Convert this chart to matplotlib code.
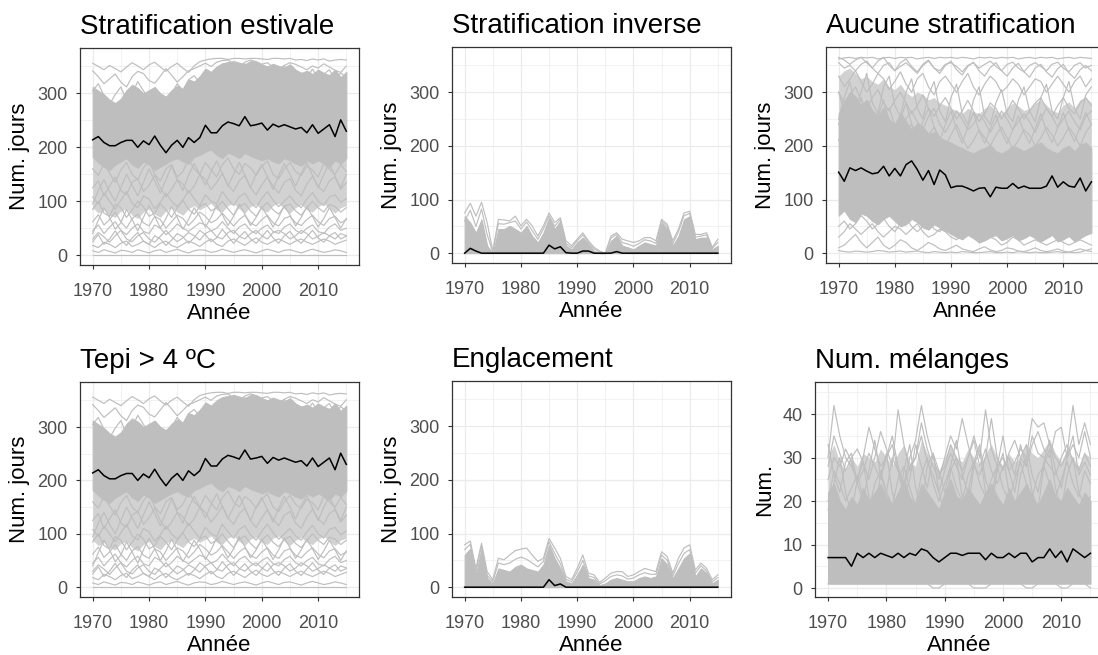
import numpy as np
import matplotlib.pyplot as plt

plt.rcParams['font.family'] = ['Liberation Sans', 'DejaVu Sans']

# simulated years
years = np.arange(1970, 2016)

GREY = '#bebebe'
MESH = '#d2d2d2'

# ---- Stratification estivale (same series give Tepi > 4 ºC) ----
est_median = [214, 220, 209, 203, 203, 209, 213, 213, 200, 212,
              205, 221, 204, 190, 204, 213, 200, 218, 209, 218,
              241, 227, 227, 240, 247, 244, 240, 257, 240, 242,
              245, 232, 243, 238, 242, 238, 234, 237, 227, 242,
              226, 234, 242, 220, 251, 230]
# range where the lake curves pile up
est_band_low = [182, 172, 164, 158, 168, 174, 180, 168, 162, 174,
                168, 158, 164, 170, 176, 180, 174, 170, 182, 186,
                192, 196, 186, 180, 190, 186, 180, 190, 184, 180,
                176, 180, 174, 170, 180, 176, 170, 166, 176, 170,
                176, 170, 164, 176, 170, 180]
est_band_high = [312, 305, 298, 288, 282, 290, 306, 316, 310, 300,
                 306, 312, 300, 294, 306, 314, 308, 326, 322, 332,
                 346, 340, 350, 356, 358, 360, 357, 354, 360, 359,
                 354, 350, 355, 351, 348, 354, 344, 338, 342, 336,
                 344, 338, 334, 344, 330, 340]
# lower edge of the looser tangle under the pile
est_mesh_low = [88, 78, 84, 74, 70, 82, 86, 74, 68, 80,
                86, 76, 70, 82, 88, 80, 74, 86, 92, 84,
                90, 96, 84, 80, 92, 96, 86, 78, 90, 94,
                84, 80, 92, 96, 86, 78, 88, 94, 84, 80,
                90, 96, 86, 78, 88, 92]
est_lakes = [
    [356, 350, 344, 352, 346, 340, 349, 357, 351, 344, 353, 358, 349, 341, 350, 356, 347, 339, 351, 359,
     362, 364, 365, 365, 363, 365, 365, 364, 365, 365, 364, 363, 365, 365, 364, 365, 362, 363, 361, 364,
     362, 364, 360, 362, 363, 362],
    [342, 331, 318, 327, 336, 321, 312, 331, 341, 337, 324, 319, 332, 346, 334, 321, 331, 342, 346, 351,
     356, 350, 358, 361, 362, 354, 349, 358, 362, 359, 354, 357, 349, 344, 352, 357, 354, 349, 344, 351,
     347, 355, 349, 343, 339, 351],
    [305, 318, 296, 280, 298, 312, 287, 300, 322, 305, 290, 310, 298, 284, 300, 318, 306, 325, 333, 320,
     338, 325, 342, 330, 350, 338, 346, 355, 340, 348, 332, 345, 330, 340, 352, 335, 322, 338, 330, 345,
     328, 336, 344, 325, 338, 330],
    [160, 148, 170, 152, 135, 158, 172, 150, 140, 162, 175, 150, 138, 160, 168, 145, 155, 178, 160, 150,
     172, 158, 145, 168, 180, 160, 150, 170, 162, 148, 165, 175, 150, 142, 160, 172, 155, 148, 165, 158,
     145, 170, 160, 150, 168, 155],
    [125, 138, 110, 128, 145, 120, 112, 135, 142, 118, 130, 148, 125, 108, 122, 140, 132, 115, 128, 150,
     140, 122, 135, 152, 130, 118, 138, 148, 125, 112, 130, 145, 128, 115, 135, 142, 120, 110, 132, 146,
     128, 118, 138, 145, 122, 135],
    [108, 95, 115, 100, 85, 102, 118, 96, 88, 110, 104, 86, 98, 115, 100, 90, 102, 120, 105, 92,
     112, 100, 95, 118, 104, 92, 108, 115, 98, 88, 105, 118, 102, 90, 100, 110, 96, 88, 104, 116,
     100, 92, 108, 112, 98, 105],
    [85, 100, 78, 72, 95, 88, 70, 84, 100, 90, 72, 78, 95, 84, 70, 88, 102, 85, 76, 90,
     96, 82, 88, 100, 86, 74, 90, 96, 82, 72, 88, 98, 84, 76, 90, 95, 82, 74, 88, 100,
     88, 80, 94, 90, 80, 88],
    [62, 75, 56, 66, 80, 62, 50, 68, 76, 60, 54, 72, 66, 50, 62, 74, 68, 55, 66, 80,
     72, 60, 66, 78, 66, 54, 66, 74, 60, 54, 66, 74, 60, 54, 68, 72, 60, 55, 66, 74,
     62, 55, 68, 72, 60, 66],
    [45, 56, 40, 52, 62, 46, 38, 50, 58, 44, 40, 56, 50, 38, 46, 58, 50, 44, 52, 60,
     56, 45, 50, 62, 50, 40, 52, 58, 46, 40, 50, 56, 44, 40, 52, 58, 46, 40, 50, 56,
     44, 40, 52, 58, 46, 50],
    [30, 42, 34, 24, 36, 46, 30, 25, 36, 42, 30, 24, 35, 46, 34, 25, 32, 42, 36, 28,
     40, 46, 34, 30, 42, 46, 35, 30, 40, 46, 36, 30, 42, 46, 40, 30, 36, 46, 40, 30,
     35, 42, 36, 30, 40, 36],
    [18, 14, 24, 20, 14, 22, 26, 16, 20, 26, 20, 14, 22, 26, 18, 14, 20, 26, 22, 16,
     24, 30, 20, 16, 26, 30, 24, 18, 26, 32, 24, 20, 26, 30, 25, 20, 26, 30, 24, 20,
     25, 30, 26, 20, 24, 28],
    [8, 5, 10, 7, 4, 9, 8, 5, 10, 7, 4, 8, 10, 5, 8, 11, 7, 4, 8, 10,
     9, 5, 7, 11, 8, 5, 8, 10, 7, 4, 8, 11, 8, 5, 9, 10, 7, 4, 8, 11,
     8, 5, 7, 10, 8, 5],
    [0, 0, 0, 0, 0, 0, 0, 0, 0, 0, 0, 0, 0, 0, 0, 0, 0, 0, 0, 0,
     0, 0, 0, 0, 0, 0, 0, 0, 0, 0, 0, 0, 0, 0, 0, 0, 0, 0, 0, 0,
     0, 0, 0, 0, 0, 0],
    [95, 120, 140, 118, 100, 125, 150, 130, 110, 135, 160, 138, 115, 140, 165, 140, 120, 148, 170, 150,
     130, 155, 175, 152, 128, 150, 172, 148, 125, 150, 168, 145, 122, 148, 170, 150, 128, 152, 172, 148,
     125, 150, 170, 146, 125, 150],
    [40, 65, 88, 70, 48, 60, 85, 66, 45, 70, 92, 72, 50, 68, 90, 70, 48, 66, 88, 72,
     52, 70, 92, 75, 55, 72, 95, 76, 55, 70, 90, 72, 52, 70, 92, 74, 54, 70, 90, 72,
     52, 68, 88, 70, 50, 68],
    [25, 38, 20, 30, 45, 28, 18, 32, 42, 26, 20, 36, 30, 18, 28, 40, 34, 22, 32, 46,
     38, 25, 32, 48, 35, 22, 34, 44, 30, 22, 34, 46, 32, 22, 36, 44, 30, 22, 34, 46,
     32, 24, 36, 42, 30, 35],
]

# ---- Stratification inverse ----
inv_median = [0, 9, 4, 0, 0, 0, 0, 0, 0, 0,
              0, 0, 0, 0, 0, 15, 8, 12, 1, 0,
              0, 4, 4, 0, 0, 0, 0, 3, 0, 0,
              0, 0, 0, 0, 0, 0, 0, 0, 0, 0,
              0, 0, 0, 0, 0, 0]
inv_band = [69, 57, 38, 63, 14, 0, 45, 45, 51, 45,
            38, 51, 32, 20, 38, 66, 45, 60, 14, 7,
            20, 29, 17, 4, 0, 0, 23, 32, 14, 11,
            7, 14, 20, 17, 14, 57, 45, 14, 32, 63,
            69, 26, 29, 29, 7, 14]
inv_lakes = [
    [75, 93, 69, 95, 57, 4, 63, 62, 60, 69, 51, 63, 51, 32, 51, 75, 57, 66, 23, 14,
     26, 38, 23, 11, 4, 0, 32, 38, 26, 23, 20, 23, 29, 29, 23, 63, 54, 23, 45, 75,
     78, 35, 35, 38, 11, 26],
    [60, 80, 50, 82, 35, 2, 55, 54, 57, 60, 45, 58, 42, 26, 45, 70, 50, 63, 18, 10,
     23, 34, 20, 8, 2, 0, 28, 35, 20, 17, 13, 18, 25, 23, 18, 60, 50, 18, 40, 70,
     74, 30, 32, 34, 9, 20],
]

# ---- Aucune stratification ----
none_median = [151, 134, 159, 154, 159, 153, 148, 150, 162, 144,
               158, 144, 165, 172, 156, 136, 154, 128, 155, 146,
               122, 125, 125, 121, 116, 121, 122, 105, 123, 121,
               121, 130, 121, 125, 121, 121, 121, 125, 144, 123,
               133, 125, 123, 140, 116, 133]
none_band_low = [70, 80, 64, 58, 74, 70, 60, 54, 64, 70,
                 60, 50, 54, 64, 58, 48, 44, 54, 48, 42,
                 36, 30, 26, 34, 28, 20, 24, 30, 34, 24,
                 28, 34, 24, 28, 34, 28, 22, 28, 34, 22,
                 26, 32, 22, 28, 34, 38]
none_band_high = [260, 282, 300, 292, 276, 286, 266, 256, 272, 250,
                  240, 262, 246, 230, 242, 236, 222, 226, 216, 210,
                  206, 200, 196, 190, 186, 192, 196, 202, 190, 186,
                  192, 200, 196, 190, 196, 202, 206, 196, 190, 186,
                  196, 200, 190, 202, 206, 196]
# upper edge of the looser tangle above the pile
none_mesh_high = [330, 340, 345, 335, 325, 330, 320, 315, 325, 310,
                  305, 315, 300, 292, 300, 296, 286, 290, 280, 276,
                  270, 266, 260, 270, 264, 260, 270, 276, 266, 260,
                  270, 280, 274, 266, 270, 280, 286, 276, 266, 262,
                  276, 282, 270, 286, 290, 280]
none_lakes = [
    [362, 364, 365, 363, 365, 364, 365, 362, 364, 365, 363, 365, 364, 365, 362, 364, 365, 363, 365, 364,
     365, 363, 365, 364, 362, 365, 364, 365, 363, 365, 364, 365, 362, 364, 365, 363, 365, 364, 365, 362,
     364, 365, 363, 365, 364, 363],
    [355, 345, 350, 340, 352, 358, 345, 335, 350, 355, 340, 348, 355, 345, 335, 350, 358, 345, 340, 352,
     355, 348, 338, 350, 355, 345, 352, 358, 348, 340, 352, 356, 345, 338, 350, 355, 348, 340, 352, 356,
     345, 338, 350, 355, 345, 350],
    [330, 310, 325, 340, 320, 300, 315, 335, 325, 305, 320, 338, 315, 300, 325, 335, 310, 295, 320, 330,
     315, 300, 320, 335, 310, 295, 315, 330, 320, 300, 310, 325, 315, 295, 310, 325, 320, 300, 315, 330,
     315, 300, 320, 330, 310, 325],
    [300, 280, 295, 310, 285, 270, 290, 305, 280, 265, 285, 300, 280, 260, 275, 295, 270, 255, 275, 290,
     270, 250, 265, 285, 265, 245, 260, 280, 270, 250, 265, 285, 270, 250, 265, 280, 290, 270, 255, 275,
     290, 270, 260, 280, 290, 275],
    [240, 265, 250, 230, 260, 275, 245, 235, 260, 270, 240, 225, 250, 265, 245, 230, 255, 270, 240, 225,
     245, 265, 250, 230, 240, 260, 245, 225, 245, 265, 250, 230, 245, 260, 245, 225, 250, 270, 255, 235,
     250, 265, 245, 230, 255, 265],
    [210, 235, 220, 205, 230, 245, 215, 200, 225, 240, 215, 200, 225, 240, 215, 195, 220, 235, 215, 200,
     220, 240, 215, 195, 210, 230, 215, 200, 220, 235, 215, 195, 210, 230, 220, 200, 215, 235, 220, 200,
     215, 235, 220, 200, 225, 240],
    [250, 290, 320, 270, 300, 335, 280, 260, 310, 330, 275, 255, 300, 325, 270, 250, 295, 320, 265, 245,
     290, 315, 260, 240, 285, 310, 255, 240, 280, 305, 260, 245, 285, 310, 265, 245, 290, 315, 265, 250,
     290, 320, 270, 250, 295, 310],
    [300, 265, 230, 260, 290, 250, 220, 255, 285, 245, 215, 250, 280, 240, 215, 245, 270, 235, 210, 240,
     265, 230, 205, 235, 262, 228, 205, 232, 258, 226, 204, 230, 256, 225, 205, 232, 260, 228, 206, 234,
     262, 230, 208, 236, 262, 240],
    [365, 360, 352, 360, 365, 355, 345, 358, 365, 350, 340, 355, 362, 348, 338, 352, 360, 345, 335, 350,
     358, 342, 332, 348, 356, 340, 330, 346, 355, 340, 330, 345, 354, 338, 328, 345, 352, 338, 328, 344,
     352, 336, 326, 342, 350, 340],
    [10, 15, 25, 35, 20, 10, 20, 30, 15, 8, 15, 25, 20, 10, 5, 12, 20, 15, 8, 5,
     10, 15, 8, 5, 3, 8, 12, 6, 3, 5, 10, 8, 4, 3, 6, 10, 5, 3, 5, 8,
     4, 2, 5, 8, 5, 3],
    [30, 40, 55, 45, 35, 45, 55, 40, 30, 40, 50, 45, 35, 45, 55, 40, 30, 35, 45, 40,
     30, 25, 35, 40, 30, 20, 25, 30, 25, 15, 20, 30, 25, 15, 20, 25, 20, 15, 20, 25,
     20, 15, 20, 25, 20, 15],
    [5, 3, 2, 4, 3, 2, 3, 5, 4, 2, 3, 4, 2, 3, 4, 2, 1, 3, 2, 1,
     2, 1, 3, 2, 1, 1, 2, 3, 1, 1, 2, 1, 3, 2, 1, 2, 1, 1, 2, 3,
     1, 2, 1, 2, 5, 8],
    [50, 60, 45, 55, 70, 60, 45, 55, 65, 50, 40, 55, 65, 50, 40, 50, 60, 45, 40, 55,
     50, 40, 45, 55, 45, 35, 45, 50, 40, 35, 45, 50, 40, 35, 45, 50, 45, 35, 40, 50,
     45, 35, 45, 55, 45, 40],
]

# ---- Englacement ----
ice_median = [0, 0, 0, 0, 0, 0, 0, 0, 0, 0,
              0, 0, 0, 0, 0, 14, 3, 6, 0, 0,
              0, 0, 0, 0, 0, 0, 0, 0, 0, 0,
              0, 0, 0, 0, 0, 0, 0, 0, 0, 0,
              0, 0, 0, 0, 0, 0]
ice_band = [60, 72, 23, 72, 17, 7, 35, 32, 29, 38,
            42, 35, 32, 29, 42, 79, 54, 35, 11, 7,
            23, 42, 17, 14, 4, 7, 14, 17, 14, 11,
            11, 17, 20, 17, 20, 54, 42, 17, 35, 54,
            63, 20, 35, 26, 7, 14]
ice_lakes = [
    [79, 86, 35, 82, 29, 14, 54, 51, 60, 68, 71, 73, 60, 48, 54, 91, 73, 54, 20, 14,
     35, 60, 26, 23, 9, 17, 26, 29, 29, 20, 23, 29, 35, 32, 29, 66, 57, 26, 54, 73,
     79, 32, 45, 35, 14, 23],
    [70, 80, 28, 77, 22, 10, 45, 42, 45, 52, 56, 52, 45, 38, 48, 85, 63, 44, 15, 10,
     28, 50, 21, 18, 6, 12, 20, 23, 21, 15, 17, 23, 27, 24, 24, 60, 50, 21, 44, 63,
     70, 26, 40, 30, 10, 18],
]

# ---- Num. mélanges ----
mix_median = [7, 7, 7, 7, 5, 8, 7, 8, 7, 8,
              7.5, 7, 8, 7, 8, 7.5, 9, 8.5, 7, 6,
              7, 8, 8, 7.5, 8, 8, 8, 6.5, 8, 7,
              7, 8, 7, 8, 8, 6, 7, 7, 9, 7,
              8.5, 6, 9, 8, 7, 8]
mix_band_low = [1, 1, 1, 1, 1, 1, 1, 1, 1, 1,
                1, 1, 1, 1, 1, 1, 1, 1, 1, 1,
                1, 1, 1, 1, 1, 1, 1, 1, 1, 1,
                1, 1, 1, 1, 1, 1, 1, 1, 1, 1,
                1, 1, 1, 1, 1, 1]
mix_band_high = [22, 24, 20, 18, 21, 19, 23, 20, 22, 24,
                 21, 19, 22, 25, 21, 19, 24, 22, 20, 18,
                 22, 25, 21, 20, 23, 21, 19, 22, 24, 21,
                 19, 23, 20, 22, 24, 21, 19, 22, 25, 21,
                 20, 23, 21, 19, 22, 20]
mix_mesh_high = [30, 33, 29, 27, 30, 28, 31, 30, 29, 32,
                 30, 28, 31, 33, 29, 28, 34, 31, 29, 27,
                 30, 33, 30, 29, 32, 30, 28, 31, 33, 30,
                 28, 31, 29, 30, 33, 31, 30, 32, 34, 31,
                 29, 32, 30, 28, 31, 30]
mix_lakes = [
    [30, 42, 35, 30, 28, 25, 30, 37, 32, 28, 30, 35, 28, 24, 30, 34, 42, 35, 30, 26,
     28, 33, 30, 27, 30, 35, 30, 41, 32, 28, 30, 27, 29, 32, 30, 39, 37, 38, 33, 30,
     28, 31, 42, 33, 38, 33],
    [28, 35, 31, 27, 30, 32, 29, 25, 30, 36, 32, 28, 41, 33, 27, 30, 38, 32, 28, 25,
     30, 35, 32, 39, 33, 28, 26, 30, 39, 30, 27, 31, 34, 30, 28, 33, 36, 32, 30, 36,
     37, 30, 33, 30, 36, 30],
    [25, 30, 28, 32, 29, 24, 27, 31, 28, 25, 30, 33, 27, 23, 28, 30, 35, 29, 26, 22,
     27, 31, 28, 25, 30, 34, 28, 32, 27, 24, 28, 30, 26, 33, 28, 35, 31, 30, 28, 26,
     30, 33, 29, 27, 31, 28],
    [20, 27, 24, 20, 23, 26, 21, 18, 24, 27, 22, 19, 25, 28, 23, 19, 26, 30, 24, 20,
     24, 28, 23, 20, 26, 29, 24, 21, 25, 28, 23, 20, 25, 29, 24, 21, 26, 28, 24, 21,
     25, 29, 24, 21, 27, 24],
    [33, 26, 22, 29, 31, 24, 20, 27, 34, 26, 22, 30, 27, 21, 25, 33, 28, 23, 31, 27,
     22, 28, 34, 26, 22, 29, 33, 25, 21, 28, 35, 27, 22, 30, 33, 26, 22, 29, 34, 27,
     23, 30, 35, 26, 29, 26],
    [18, 24, 30, 22, 17, 25, 29, 21, 17, 26, 31, 22, 18, 27, 33, 23, 18, 28, 31, 22,
     17, 27, 30, 21, 18, 28, 32, 22, 18, 27, 31, 22, 17, 26, 30, 22, 18, 28, 32, 23,
     18, 26, 30, 22, 19, 21],
    [1, 1, 1, 1, 1, 1, 1, 1, 1, 1, 1, 1, 1, 1, 1, 1, 1, 1, 0, 0,
     1, 1, 1, 1, 1, 0, 0, 0, 1, 1, 1, 1, 1, 1, 0, 0, 1, 1, 1, 1,
     0, 0, 1, 1, 1, 0],
]

W, H = 1098, 655
fig = plt.figure(figsize=(W / 100, H / 100), dpi=100)


# place an axes from pixel edges (origin top-left)
def add_panel(left, top, right, bottom):
    return fig.add_axes([left / W, 1 - bottom / H, (right - left) / W, (bottom - top) / H])


def draw_panel(ax, band_low, band_high, lakes, median, mesh=None):
    # lighter tangle first, then the dense pile, single lakes and the median on top
    if mesh is not None:
        ax.fill_between(years, mesh[0], mesh[1], color=MESH, lw=0)
    ax.fill_between(years, band_low, band_high, color=GREY, lw=0.8)
    for lake in lakes:
        ax.plot(years, lake, color=GREY, lw=0.85)
    ax.plot(years, median, color='black', lw=1.1, zorder=5)


def style_panel(ax, title, ylabel, ylim, yticks, yminor):
    ax.set_xlim(1967.75, 2017.25)
    ax.set_ylim(*ylim)
    ax.set_xticks([1970, 1980, 1990, 2000, 2010])
    ax.set_xticks([1975, 1985, 1995, 2005, 2015], minor=True)
    ax.set_yticks(yticks)
    ax.set_yticks(yminor, minor=True)
    ax.grid(which='major', color='#ebebeb', lw=0.9)
    ax.grid(which='minor', color='#ebebeb', lw=0.45)
    ax.set_axisbelow(True)
    ax.tick_params(which='major', length=3, width=0.8, color='#333333',
                   labelsize=13, labelcolor='#4d4d4d')
    ax.tick_params(axis='x', which='major', pad=10)
    ax.tick_params(axis='y', which='major', pad=6)
    ax.tick_params(which='minor', length=0)
    for sp in ax.spines.values():
        sp.set_color('#333333')
        sp.set_linewidth(0.9)
    ax.set_title(title, loc='left', fontsize=20, pad=10)
    ax.set_xlabel('Année', fontsize=16, labelpad=2)
    ax.set_ylabel(ylabel, fontsize=16, labelpad=5)


days_lim = (-18.3, 384.3)
days_ticks = [0, 100, 200, 300]
days_minor = [50, 150, 250, 350]

ax1 = add_panel(80, 48, 359, 265)
draw_panel(ax1, est_band_low, est_band_high, est_lakes, est_median, (est_mesh_low, est_band_low))
style_panel(ax1, 'Stratification estivale', 'Num. jours', days_lim, days_ticks, days_minor)

ax2 = add_panel(452, 47, 730.5, 263)
draw_panel(ax2, 0, inv_band, inv_lakes, inv_median)
style_panel(ax2, 'Stratification inverse', 'Num. jours', days_lim, days_ticks, days_minor)

ax3 = add_panel(826, 47, 1104, 263)
draw_panel(ax3, none_band_low, none_band_high, none_lakes, none_median, (none_band_high, none_mesh_high))
style_panel(ax3, 'Aucune stratification', 'Num. jours', days_lim, days_ticks, days_minor)

ax4 = add_panel(80, 382, 359, 597)
draw_panel(ax4, est_band_low, est_band_high, est_lakes, est_median, (est_mesh_low, est_band_low))
style_panel(ax4, 'Tepi > 4 ºC', 'Num. jours', days_lim, days_ticks, days_minor)

ax5 = add_panel(452, 381, 730.5, 597)
draw_panel(ax5, 0, ice_band, ice_lakes, ice_median)
style_panel(ax5, 'Englacement', 'Num. jours', days_lim, days_ticks, days_minor)

ax6 = add_panel(815, 382, 1103.6, 597)
draw_panel(ax6, mix_band_low, mix_band_high, mix_lakes, mix_median, (mix_band_high, mix_mesh_high))
style_panel(ax6, 'Num. mélanges', 'Num.', (-2.07, 47.4), [0, 10, 20, 30, 40], [5, 15, 25, 35, 45])

fig.savefig('out.png', dpi=100)
